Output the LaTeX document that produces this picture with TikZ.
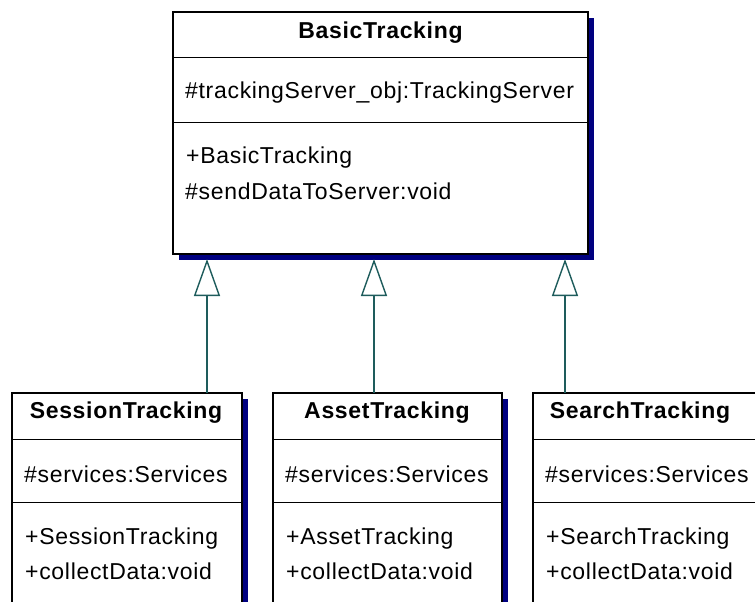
\documentclass[tikz,border=0pt]{standalone}
\usepackage{fontspec}
\usetikzlibrary{arrows.meta}
\newfontfamily\umlfont{Liberation Sans}[LetterSpace=3]
\definecolor{shadownavy}{RGB}{0,0,128}
\definecolor{linkteal}{RGB}{30,92,92}

\tikzset{
  classbox/.style={draw=black, line width=1.3pt, fill=white, rectangle,
    anchor=north west, inner sep=0pt, outer sep=0pt},
  boxshadow/.style={fill=shadownavy},
  divider/.style={draw=black, line width=1pt},
  classtitle/.style={font=\umlfont\fontsize{23}{27}\selectfont\bfseries, anchor=center, inner sep=0pt},
  member/.style={font=\umlfont\fontsize{23}{27}\selectfont, anchor=west, inner sep=0pt},
  inherit/.style={draw=linkteal, line width=1.4pt,
    -{Triangle[open, length=37pt, width=26pt, fill=white]}, shorten >=5pt},
}

\begin{document}
\begin{tikzpicture}[x=1pt, y=-1pt]
\useasboundingbox (0,0) rectangle (755,602);
\fill[white] (0,0) rectangle (755,602);
\clip (0,0) rectangle (755,602);

% ---- BasicTracking (parent class) ----
\fill[boxshadow] (179,18) rectangle (594,260);
\node[classbox, minimum width=415pt, minimum height=242pt] (bt) at (173,12) {};
\draw[divider] (173,58) -- (588,58);
\draw[divider] (173,122) -- (588,122);
\node[classtitle] (btT) at (380.5,33) {BasicTracking};
\node[member] (btA) at (185,93) {\#trackingServer\_obj:TrackingServer};
\node[member] (btM1) at (186,158) {+BasicTracking};
\node[member] (btM2) at (185,191) {\#sendDataToServer:void};

% ---- SessionTracking ----
\fill[boxshadow] (18,399) rectangle (248,660);
\node[classbox, minimum width=230pt, minimum height=260pt] (st) at (12,393) {};
\draw[divider] (12,439) -- (242,439);
\draw[divider] (12,502) -- (242,502);
\node[classtitle] (stT) at (126,413) {SessionTracking};
\node[member] (stA) at (24,474) {\#services:Services};
\node[member] (stM1) at (25,539) {+SessionTracking};
\node[member] (stM2) at (25,571) {+collectData:void};

% ---- AssetTracking ----
\fill[boxshadow] (279,399) rectangle (508,660);
\node[classbox, minimum width=229pt, minimum height=260pt] (at) at (273,393) {};
\draw[divider] (273,439) -- (502,439);
\draw[divider] (273,502) -- (502,502);
\node[classtitle] (atT) at (387,413) {AssetTracking};
\node[member] (atA) at (285,474) {\#services:Services};
\node[member] (atM1) at (286,539) {+AssetTracking};
\node[member] (atM2) at (286,571) {+collectData:void};

% ---- SearchTracking ----
\fill[boxshadow] (539,399) rectangle (769,660);
\node[classbox, minimum width=230pt, minimum height=260pt] (sr) at (533,393) {};
\draw[divider] (533,439) -- (763,439);
\draw[divider] (533,502) -- (763,502);
\node[classtitle] (srT) at (640,413) {SearchTracking};
\node[member] (srA) at (545,474) {\#services:Services};
\node[member] (srM1) at (546,539) {+SearchTracking};
\node[member] (srM2) at (546,571) {+collectData:void};

% ---- generalisation links ----
\coordinate (g1) at (207,0);
\coordinate (g2) at (374,0);
\coordinate (g3) at (565,0);
\draw[inherit] (st.north -| g1) -- (bt.south -| g1);
\draw[inherit] (at.north -| g2) -- (bt.south -| g2);
\draw[inherit] (sr.north -| g3) -- (bt.south -| g3);
\end{tikzpicture}
\end{document}
